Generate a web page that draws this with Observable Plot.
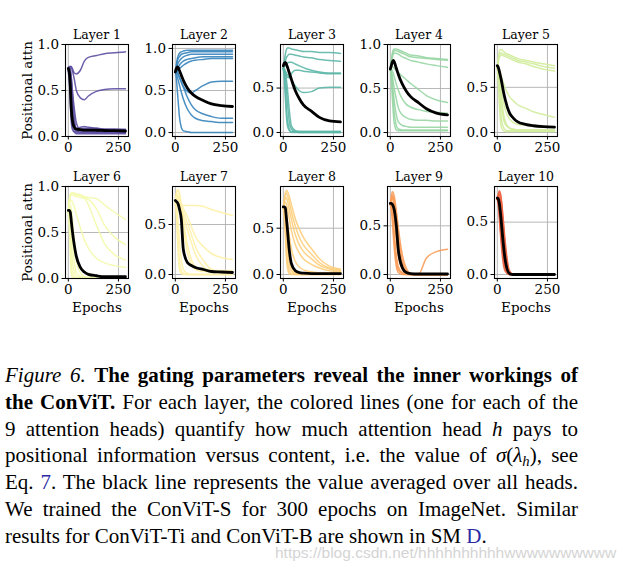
<!DOCTYPE html>
<html><head><meta charset="utf-8">
<script src="https://cdn.jsdelivr.net/npm/d3@7"></script>
<script src="https://cdn.jsdelivr.net/npm/@observablehq/plot@0.6"></script>
<style>
html,body{margin:0;padding:0;background:#fff;}
#root{position:relative;width:634px;height:571px;overflow:hidden;background:#fff;}
.panel{position:absolute;}
#caption{position:absolute;left:5px;top:362px;width:573px;font-family:"Liberation Serif","Times New Roman",serif;font-size:21px;line-height:26.8px;color:#000;}
#caption div{text-align:justify;text-align-last:justify;}
#caption div.last{text-align:left;text-align-last:left;}
#caption sub{font-size:0.7em;line-height:0;vertical-align:-0.25em;}
.ref{color:#2a2aa6;}
#wm{position:absolute;left:275px;top:545px;line-height:15px;font-family:"Liberation Sans",Arial,sans-serif;font-size:15.5px;color:#d4d4d4;white-space:nowrap;}
</style></head><body>
<div id="root">
<div id="caption">
<div><i>Figure 6.</i> <b>The gating parameters reveal the inner workings of</b></div>
<div><b>the ConViT.</b> For each layer, the colored lines (one for each of the</div>
<div>9 attention heads) quantify how much attention head <i>h</i> pays to</div>
<div>positional information versus content, i.e. the value of <i>σ</i>(<i>λ<sub>h</sub></i>), see</div>
<div>Eq. <span class="ref">7</span>. The black line represents the value averaged over all heads.</div>
<div>We trained the ConViT-S for 300 epochs on ImageNet. Similar</div>
<div class="last">results for ConViT-Ti and ConViT-B are shown in SM <span class="ref">D</span>.</div>
</div>
<div id="wm">https://blog.csdn.net/hhhhhhhhhhwwwwwwwwww</div>
</div>
<script>
// ---- data ----
const epochs = [0, 5, 10, 15, 20, 30, 40, 60, 80, 100, 140, 180, 230, 285];
const layerNames = ["Layer 1","Layer 2","Layer 3","Layer 4","Layer 5","Layer 6","Layer 7","Layer 8","Layer 9","Layer 10"];
const xTicks = [0, 250];
const yTicksFull = [0, 0.5, 1.0];
const yTicksHalf = [0, 0.5];

const layer1 = [
  [0.72,0.75,0.76,0.76,0.74,0.69,0.68,0.72,0.82,0.86,0.88,0.90,0.91,0.92],
  [0.72,0.75,0.76,0.75,0.72,0.62,0.50,0.42,0.40,0.44,0.49,0.51,0.52,0.52],
  [0.74,0.70,0.55,0.35,0.20,0.10,0.08,0.08,0.09,0.09,0.09,0.08,0.08,0.08],
  [0.73,0.72,0.65,0.50,0.35,0.15,0.09,0.10,0.11,0.10,0.09,0.08,0.08,0.07],
  [0.70,0.60,0.35,0.15,0.08,0.05,0.05,0.06,0.06,0.06,0.05,0.05,0.05,0.05],
  [0.75,0.76,0.74,0.65,0.50,0.20,0.07,0.05,0.05,0.05,0.04,0.04,0.04,0.04],
  [0.72,0.65,0.45,0.25,0.12,0.05,0.03,0.03,0.03,0.03,0.03,0.03,0.03,0.03],
  [0.71,0.68,0.60,0.40,0.25,0.10,0.05,0.04,0.04,0.04,0.04,0.04,0.04,0.04],
  [0.73,0.72,0.70,0.62,0.50,0.30,0.15,0.07,0.06,0.06,0.06,0.06,0.06,0.06]
];
const mean1 = [0.74,0.70,0.55,0.30,0.18,0.10,0.08,0.075,0.07,0.07,0.068,0.065,0.063,0.06];

const layer2 = [
  [0.72,0.80,0.88,0.92,0.94,0.96,0.97,0.98,0.98,0.98,0.98,0.98,0.98,0.98],
  [0.72,0.78,0.85,0.88,0.90,0.93,0.94,0.95,0.96,0.96,0.96,0.96,0.96,0.96],
  [0.72,0.76,0.80,0.83,0.85,0.88,0.90,0.92,0.93,0.93,0.93,0.93,0.93,0.93],
  [0.72,0.74,0.76,0.78,0.80,0.83,0.85,0.87,0.88,0.89,0.90,0.90,0.90,0.90],
  [0.72,0.73,0.74,0.75,0.76,0.78,0.80,0.83,0.85,0.86,0.87,0.88,0.88,0.88],
  [0.72,0.74,0.73,0.70,0.66,0.60,0.55,0.49,0.47,0.50,0.56,0.60,0.61,0.61],
  [0.72,0.72,0.70,0.68,0.66,0.60,0.54,0.42,0.33,0.27,0.22,0.19,0.17,0.17],
  [0.72,0.70,0.66,0.62,0.57,0.48,0.40,0.28,0.21,0.17,0.14,0.13,0.12,0.12],
  [0.72,0.65,0.50,0.35,0.20,0.06,0.02,0.01,0.00,0.00,0.00,0.00,0.00,0.00]
];
const mean2 = [0.72,0.76,0.78,0.77,0.74,0.68,0.62,0.53,0.47,0.43,0.38,0.34,0.32,0.31];

const layer3 = [
  [0.72,0.80,0.88,0.93,0.95,0.95,0.94,0.93,0.92,0.91,0.91,0.90,0.90,0.89],
  [0.72,0.76,0.80,0.84,0.86,0.88,0.88,0.87,0.86,0.85,0.84,0.82,0.81,0.80],
  [0.72,0.74,0.76,0.77,0.78,0.79,0.79,0.77,0.75,0.73,0.70,0.68,0.67,0.67],
  [0.72,0.70,0.67,0.64,0.62,0.62,0.66,0.70,0.70,0.69,0.68,0.67,0.66,0.66],
  [0.72,0.71,0.69,0.67,0.65,0.62,0.59,0.52,0.47,0.45,0.46,0.50,0.51,0.51],
  [0.72,0.65,0.50,0.30,0.15,0.04,0.01,0.01,0.01,0.01,0.01,0.01,0.01,0.01],
  [0.72,0.70,0.62,0.50,0.35,0.12,0.04,0.01,0.00,0.00,0.00,0.00,0.00,0.00],
  [0.72,0.72,0.68,0.60,0.50,0.25,0.08,0.02,0.01,0.01,0.01,0.01,0.01,0.01],
  [0.72,0.60,0.40,0.20,0.08,0.02,0.00,0.00,0.00,0.00,0.00,0.00,0.00,0.00]
];
const mean3 = [0.75,0.78,0.79,0.77,0.74,0.67,0.60,0.47,0.38,0.31,0.24,0.17,0.13,0.12];

const layer4 = [
  [0.72,0.82,0.90,0.94,0.95,0.95,0.94,0.92,0.90,0.88,0.87,0.85,0.84,0.83],
  [0.72,0.80,0.88,0.92,0.93,0.93,0.92,0.90,0.88,0.86,0.85,0.84,0.83,0.82],
  [0.72,0.78,0.85,0.89,0.90,0.90,0.89,0.86,0.84,0.82,0.80,0.78,0.76,0.74],
  [0.72,0.74,0.75,0.74,0.73,0.70,0.68,0.64,0.60,0.56,0.49,0.42,0.37,0.34],
  [0.72,0.72,0.70,0.67,0.63,0.55,0.48,0.38,0.32,0.29,0.26,0.24,0.23,0.22],
  [0.72,0.70,0.64,0.57,0.50,0.38,0.28,0.20,0.17,0.15,0.14,0.14,0.13,0.13],
  [0.72,0.68,0.58,0.45,0.35,0.20,0.12,0.08,0.07,0.06,0.06,0.06,0.06,0.06],
  [0.72,0.65,0.50,0.35,0.22,0.08,0.04,0.03,0.03,0.03,0.03,0.03,0.03,0.03],
  [0.72,0.60,0.40,0.22,0.10,0.03,0.02,0.02,0.02,0.02,0.02,0.02,0.02,0.02]
];
const mean4 = [0.72,0.76,0.80,0.82,0.80,0.73,0.66,0.55,0.47,0.41,0.34,0.27,0.22,0.20];

const layer5 = [
  [0.72,0.82,0.90,0.92,0.92,0.90,0.88,0.86,0.84,0.82,0.80,0.78,0.76,0.74],
  [0.72,0.80,0.86,0.88,0.88,0.87,0.86,0.84,0.82,0.80,0.78,0.76,0.73,0.71],
  [0.72,0.78,0.83,0.85,0.86,0.85,0.84,0.82,0.80,0.78,0.76,0.73,0.70,0.68],
  [0.72,0.72,0.70,0.66,0.62,0.55,0.49,0.40,0.35,0.31,0.27,0.23,0.20,0.17],
  [0.72,0.70,0.65,0.58,0.50,0.35,0.25,0.15,0.11,0.09,0.08,0.07,0.06,0.06],
  [0.72,0.66,0.55,0.42,0.30,0.16,0.09,0.05,0.04,0.03,0.03,0.03,0.03,0.03],
  [0.72,0.62,0.45,0.28,0.16,0.06,0.03,0.02,0.02,0.02,0.02,0.02,0.02,0.02],
  [0.72,0.55,0.32,0.15,0.06,0.02,0.01,0.01,0.01,0.01,0.01,0.01,0.01,0.01],
  [0.72,0.68,0.60,0.50,0.40,0.22,0.12,0.05,0.03,0.02,0.02,0.02,0.02,0.02]
];
const mean5 = [0.74,0.72,0.68,0.63,0.58,0.46,0.36,0.22,0.16,0.12,0.09,0.075,0.065,0.06];

const layer6 = [
  [0.72,0.85,0.92,0.93,0.93,0.93,0.92,0.91,0.89,0.88,0.87,0.80,0.72,0.64],
  [0.72,0.84,0.91,0.92,0.92,0.92,0.91,0.90,0.88,0.86,0.76,0.58,0.45,0.37],
  [0.72,0.83,0.90,0.91,0.91,0.90,0.89,0.88,0.87,0.80,0.58,0.38,0.26,0.20],
  [0.72,0.80,0.85,0.85,0.83,0.78,0.70,0.55,0.42,0.33,0.22,0.17,0.14,0.12],
  [0.72,0.78,0.80,0.75,0.65,0.40,0.20,0.06,0.02,0.01,0.01,0.01,0.01,0.01],
  [0.72,0.70,0.60,0.40,0.22,0.06,0.02,0.01,0.01,0.01,0.01,0.01,0.01,0.01],
  [0.72,0.62,0.40,0.18,0.06,0.01,0.00,0.00,0.00,0.00,0.00,0.00,0.00,0.00],
  [0.72,0.55,0.25,0.06,0.01,0.00,0.00,0.00,0.00,0.00,0.00,0.00,0.00,0.00],
  [0.72,0.75,0.72,0.60,0.45,0.18,0.06,0.02,0.01,0.01,0.01,0.01,0.01,0.01]
];
const mean6 = [0.74,0.74,0.72,0.62,0.52,0.36,0.24,0.12,0.07,0.045,0.03,0.02,0.02,0.02];

const layer7 = [
  [0.72,0.72,0.71,0.70,0.70,0.70,0.69,0.69,0.69,0.69,0.68,0.65,0.62,0.59],
  [0.72,0.76,0.78,0.76,0.74,0.70,0.66,0.58,0.48,0.38,0.28,0.21,0.17,0.15],
  [0.72,0.80,0.84,0.85,0.82,0.70,0.55,0.30,0.15,0.08,0.05,0.04,0.04,0.04],
  [0.72,0.80,0.85,0.84,0.80,0.65,0.48,0.22,0.10,0.05,0.03,0.03,0.03,0.03],
  [0.72,0.78,0.80,0.78,0.74,0.66,0.58,0.45,0.32,0.20,0.08,0.03,0.02,0.02],
  [0.72,0.75,0.76,0.74,0.72,0.67,0.62,0.52,0.40,0.28,0.14,0.05,0.02,0.02],
  [0.72,0.65,0.50,0.30,0.15,0.04,0.01,0.00,0.00,0.00,0.00,0.00,0.00,0.00],
  [0.72,0.60,0.38,0.18,0.06,0.01,0.00,0.00,0.00,0.00,0.00,0.00,0.00,0.00],
  [0.72,0.70,0.62,0.50,0.36,0.15,0.05,0.01,0.00,0.00,0.00,0.00,0.00,0.00]
];
const mean7 = [0.74,0.73,0.72,0.70,0.66,0.55,0.25,0.12,0.09,0.07,0.05,0.03,0.025,0.02];

const layer8 = [
  [0.72,0.82,0.88,0.91,0.90,0.84,0.76,0.60,0.49,0.40,0.28,0.17,0.09,0.06],
  [0.72,0.80,0.86,0.88,0.86,0.78,0.68,0.52,0.40,0.32,0.22,0.13,0.07,0.05],
  [0.72,0.78,0.82,0.83,0.80,0.70,0.60,0.43,0.32,0.25,0.17,0.10,0.06,0.04],
  [0.72,0.76,0.78,0.76,0.72,0.60,0.48,0.32,0.23,0.17,0.11,0.07,0.04,0.03],
  [0.72,0.74,0.72,0.66,0.58,0.42,0.28,0.14,0.08,0.05,0.03,0.02,0.02,0.02],
  [0.72,0.70,0.62,0.48,0.32,0.12,0.04,0.01,0.01,0.01,0.01,0.01,0.01,0.01],
  [0.72,0.66,0.52,0.32,0.16,0.04,0.01,0.00,0.00,0.00,0.00,0.00,0.00,0.00],
  [0.72,0.62,0.42,0.20,0.08,0.01,0.00,0.00,0.00,0.00,0.00,0.00,0.00,0.00],
  [0.72,0.72,0.68,0.60,0.48,0.22,0.08,0.02,0.01,0.01,0.01,0.01,0.01,0.01]
];
const mean8 = [0.73,0.73,0.72,0.62,0.50,0.26,0.12,0.04,0.02,0.015,0.01,0.01,0.01,0.01];

const layer9 = [
  [0.72,0.80,0.85,0.84,0.80,0.66,0.48,0.20,0.06,0.01,0.00,0.00,0.00,0.00],
  [0.72,0.78,0.82,0.80,0.75,0.60,0.40,0.14,0.04,0.01,0.00,0.00,0.00,0.00],
  [0.72,0.76,0.78,0.75,0.70,0.52,0.32,0.08,0.02,0.00,0.00,0.00,0.00,0.00],
  [0.72,0.74,0.74,0.70,0.62,0.42,0.22,0.05,0.01,0.00,0.00,0.00,0.00,0.00],
  [0.72,0.70,0.65,0.55,0.42,0.20,0.08,0.02,0.01,0.00,0.00,0.00,0.00,0.00],
  [0.72,0.72,0.70,0.66,0.58,0.38,0.20,0.06,0.02,0.01,0.00,0.17,0.235,0.26],
  [0.72,0.68,0.60,0.48,0.34,0.14,0.05,0.01,0.00,0.00,0.00,0.00,0.00,0.00],
  [0.72,0.66,0.55,0.40,0.26,0.08,0.02,0.00,0.00,0.00,0.00,0.00,0.00,0.00],
  [0.72,0.77,0.80,0.78,0.72,0.56,0.36,0.10,0.03,0.00,0.00,0.00,0.00,0.00]
];
const mean9 = [0.73,0.73,0.72,0.70,0.66,0.50,0.25,0.07,0.02,0.01,0.005,0.005,0.005,0.005];

const layer10 = [
  [0.72,0.77,0.80,0.78,0.72,0.52,0.30,0.04,0.00,0.00,0.00,0.00,0.00,0.00],
  [0.72,0.76,0.78,0.76,0.70,0.48,0.26,0.03,0.00,0.00,0.00,0.00,0.00,0.00],
  [0.72,0.75,0.76,0.72,0.65,0.42,0.20,0.02,0.00,0.00,0.00,0.00,0.00,0.00],
  [0.72,0.74,0.73,0.68,0.60,0.38,0.17,0.02,0.00,0.00,0.00,0.00,0.00,0.00],
  [0.72,0.73,0.70,0.64,0.55,0.32,0.14,0.01,0.00,0.00,0.00,0.00,0.00,0.00],
  [0.72,0.71,0.66,0.58,0.48,0.25,0.10,0.01,0.00,0.00,0.00,0.00,0.00,0.00],
  [0.72,0.70,0.62,0.52,0.40,0.20,0.07,0.00,0.00,0.00,0.00,0.00,0.00,0.00],
  [0.72,0.68,0.58,0.45,0.33,0.14,0.05,0.00,0.00,0.00,0.00,0.00,0.00,0.00],
  [0.72,0.66,0.54,0.40,0.28,0.10,0.03,0.00,0.00,0.00,0.00,0.00,0.00,0.00]
];
const mean10 = [0.73,0.72,0.68,0.60,0.50,0.29,0.13,0.01,0.00,0.00,0.00,0.00,0.00,0.00];

const heads = [layer1, layer2, layer3, layer4, layer5, layer6, layer7, layer8, layer9, layer10];
const means = [mean1, mean2, mean3, mean4, mean5, mean6, mean7, mean8, mean9, mean10];

// ---- scale settings ----
const yDomains = [[0,1.0],[-0.047,1.047],[-0.045,0.99],[-0.045,1.0],[-0.044,0.974],
                  [0,1.0],[-0.04,0.88],[-0.043,0.95],[-0.041,0.904],[-0.038,0.84]];
const yTickSets = [yTicksFull, yTicksFull, yTicksHalf, yTicksFull, yTicksHalf,
                   yTicksFull, yTicksHalf, yTicksHalf, yTicksHalf, yTicksHalf];
const xDomain = [-14, 300];

// matplotlib Spectral anchors; layer colour = Spectral(1 - i/11)
const spectralStops = ["#9e0142","#d53e4f","#f46d43","#fdae61","#fee08b","#ffffbf","#e6f598","#abdda4","#66c2a5","#3288bd","#5e4fa2"];
const spectral = d3.scaleLinear().domain(d3.range(11).map(i => i / 10)).range(spectralStops).interpolate(d3.interpolateRgb);

const FW = 63, FH = 92;
const ML = 50, MR = 14, MT = 24, MB = 40;
const frameLefts = [65, 172, 280, 387, 494];
const frameTops = [44, 186];
const serif = "'DejaVu Serif', serif";

const root = document.getElementById("root");

heads.forEach((layer, i) => {
  const rows = [];
  layer.forEach((h, j) => h.forEach((v, k) => rows.push({epoch: epochs[k], value: v, head: j})));
  const meanRows = means[i].map((v, k) => ({epoch: epochs[k], value: v}));
  const col = i % 5, row = Math.floor(i / 5);
  const color = spectral(1 - i / 11);
  const marks = [
    Plot.gridX(xTicks, {stroke: "#b0b0b0", strokeOpacity: 0.9, strokeWidth: 1}),
    Plot.gridY(yTickSets[i], {stroke: "#b0b0b0", strokeOpacity: 0.9, strokeWidth: 1}),
    Plot.line(rows, {x: "epoch", y: "value", z: "head", stroke: color, strokeOpacity: 0.9, strokeWidth: 1.5, curve: "monotone-x", clip: true}),
    Plot.line(meanRows, {x: "epoch", y: "value", stroke: "black", strokeWidth: 2.8, curve: "monotone-x", clip: true}),
    Plot.frame({stroke: "black", strokeWidth: 1.1}),
    Plot.axisX(xTicks, {tickSize: 3.5, tickPadding: 2.5, label: null, tickFormat: d => String(d), fontSize: 13.5, fontFamily: serif}),
    Plot.axisY(yTickSets[i], {tickSize: 3.5, tickPadding: 3, label: null, tickFormat: d3.format(".1f"), fontSize: 13.5, fontFamily: serif}),
    Plot.text([layerNames[i]], {text: d => d, frameAnchor: "top", dy: -9.5, lineAnchor: "middle", fontSize: 12.5, fontFamily: serif})
  ];
  if (col === 0) marks.push(Plot.text(["Positional attn"], {text: d => d, frameAnchor: "left", rotate: -90, dx: -38, lineAnchor: "middle", textAnchor: "middle", fontSize: 13.5, fontFamily: serif}));
  if (row === 1) marks.push(Plot.text(["Epochs"], {text: d => d, frameAnchor: "bottom", dy: 29, lineAnchor: "middle", fontSize: 13.5, fontFamily: serif}));
  const svg = Plot.plot({
    width: ML + FW + MR, height: MT + FH + MB,
    marginLeft: ML, marginRight: MR, marginTop: MT, marginBottom: MB,
    style: {fontFamily: serif, fontSize: "13.5px", background: "transparent", overflow: "visible", color: "black"},
    x: {domain: xDomain},
    y: {domain: yDomains[i]},
    marks
  });
  svg.classList.add("panel");
  svg.style.position = "absolute";
  svg.style.left = (frameLefts[col] - ML) + "px";
  svg.style.top = (frameTops[row] - MT) + "px";
  root.appendChild(svg);
});
</script>
</body></html>
